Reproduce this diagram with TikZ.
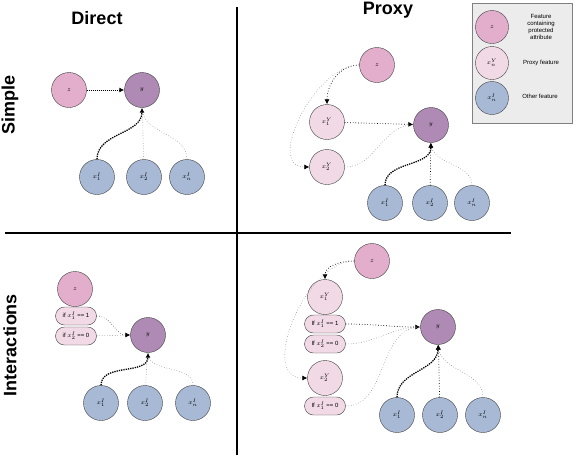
\documentclass[tikz,border=0pt]{standalone}
\usepackage{amsmath}
\usepackage{fontspec}
\setmainfont{Liberation Sans}
\usepackage{tikz}
\usetikzlibrary{arrows.meta}
\definecolor{zpink}{HTML}{E2AECB}
\definecolor{ypurple}{HTML}{AE8AB4}
\definecolor{xblue}{HTML}{A7B9D5}
\definecolor{ppink}{HTML}{F1D9E6}
\tikzset{
  feat/.style={circle, draw=black!75, minimum size=35pt, inner sep=0pt, font=\fontsize{6.5}{7.5}\selectfont},
  zfeat/.style={feat, fill=zpink},
  yfeat/.style={feat, fill=ypurple},
  ifeat/.style={feat, fill=xblue},
  pfeat/.style={feat, fill=ppink},
  cond/.style={draw=black!75, fill=ppink, rounded corners=9pt, minimum width=41pt, minimum height=18pt, inner sep=0pt, font=\fontsize{6}{7}\selectfont},
  strong/.style={densely dotted, line width=1.3pt, -{Latex[length=5pt,width=5pt]}},
  medium/.style={dotted, line width=0.7pt, -{Latex[length=5pt,width=5pt]}},
  weak/.style={dotted, black!45, line width=0.6pt},
  weakarrow/.style={weak, -{Latex[length=5pt,width=5pt,color=black]}},
  title/.style={font=\fontsize{18}{20}\selectfont\bfseries},
  legendtext/.style={align=center, font=\fontsize{6}{6.8}\selectfont}
}
\begin{document}
\begin{tikzpicture}[x=1pt,y=-1pt]
  \useasboundingbox (0,0) rectangle (576,456);
  \draw[line width=2.5pt] (237,7) -- (237,455);
  \draw[line width=2.5pt] (5,233) -- (511,233);
  \node[title] at (97,18) {Direct};
  \node[title] at (388,10) {Proxy};
  \node[title, rotate=90] at (10,105) {Simple};
  \node[title, rotate=90] at (10,345) {Interactions};

  \draw[draw=gray, fill=gray!15] (472,3) rectangle (572,123);
  \node[zfeat, minimum size=33pt] (lz) at (492,27) {$z$};
  \node[pfeat, minimum size=33pt] (lp) at (492,63) {$x^{Y}_{n}$};
  \node[ifeat, minimum size=33pt] (li) at (492,98) {$x^{I}_{n}$};
  \node[legendtext] at (541,27) {Feature\\containing\\protected\\attribute};
  \node[legendtext] at (541,63) {Proxy feature};
  \node[legendtext] at (540,96) {Other feature};

  \node[zfeat] (dsz) at (69,90) {$z$};
  \node[yfeat] (dsy) at (142,90) {$y$};
  \node[ifeat] (dsx1) at (97,177) {$x^{I}_{1}$};
  \node[ifeat] (dsx2) at (144,177) {$x^{I}_{2}$};
  \node[ifeat] (dsxn) at (187,177) {$x^{I}_{n}$};
  \draw[strong, line width=1pt] (dsz) -- (dsy);
  \draw[weak] (dsx2) -- (dsy);
  \draw[weak] (dsxn.north) to[out=90,in=-90] (dsy.south);
  \draw[strong] (dsx1.north) to[out=90,in=-90] (dsy.south);

  \node[zfeat] (psz) at (377,65) {$z$};
  \node[pfeat] (psp1) at (327,122) {$x^{Y}_{1}$};
  \node[pfeat] (psp2) at (327,167) {$x^{Y}_{2}$};
  \node[yfeat] (psy) at (431,125) {$y$};
  \node[ifeat] (psx1) at (385,203) {$x^{I}_{1}$};
  \node[ifeat] (psx2) at (430,203) {$x^{I}_{2}$};
  \node[ifeat] (psxn) at (472,203) {$x^{I}_{n}$};
  \draw[medium] (psz.west) to[out=180,in=90] (psp1.north);
  \draw[weakarrow] (psz.west) to[out=180,in=180] (psp2.west);
  \draw[medium] (psp1) -- (psy);
  \draw[weak] (psp2.east) to[out=0,in=180] (psy.west);
  \draw[weak] (psxn.north) to[out=90,in=-90] (psy.south);
  \draw[medium] (psx2) -- (psy);
  \draw[strong] (psx1.north) to[out=90,in=-90] (psy.south);

  \node[zfeat] (diz) at (75,289) {$z$};
  \node[cond] (dia) at (76,316) {if $x^{I}_{1}$ == 1};
  \node[cond] (dib) at (76,336) {if $x^{I}_{2}$ == 0};
  \node[yfeat] (diy) at (148,335) {$y$};
  \node[ifeat] (dix1) at (101,403) {$x^{I}_{1}$};
  \node[ifeat] (dix2) at (145,403) {$x^{I}_{2}$};
  \node[ifeat] (dixn) at (193,403) {$x^{I}_{n}$};
  \draw[weak] (dib) -- (diy);
  \draw[medium, line width=0.5pt] (dia.east) to[out=0,in=180] (diy.west);
  \draw[weak] (dix2) -- (diy);
  \draw[weak] (dixn.north) to[out=90,in=-90] (diy.south);
  \draw[strong] (dix1.north) to[out=90,in=-90] (diy.south);

  \node[zfeat] (piz) at (372,261) {$z$};
  \node[pfeat] (pip1) at (325,297) {$x^{Y}_{1}$};
  \node[cond] (pia) at (325,324) {If $x^{I}_{1}$ == 1};
  \node[cond] (pib) at (325,344) {If $x^{I}_{2}$ == 0};
  \node[pfeat] (pip2) at (325,378) {$x^{Y}_{2}$};
  \node[cond] (pic) at (325,406) {If $x^{I}_{1}$ == 0};
  \node[yfeat] (piy) at (438,327) {$y$};
  \node[ifeat] (pix1) at (397,415) {$x^{I}_{1}$};
  \node[ifeat] (pix2) at (440,415) {$x^{I}_{2}$};
  \node[ifeat] (pixn) at (483,415) {$x^{I}_{n}$};
  \draw[medium] (piz.west) to[out=180,in=90] (pip1.north);
  \draw[weakarrow] (piz.west) to[out=180,in=180] (pip2.west);
  \draw[medium] (pia.east) to[out=0,in=180] (piy.west);
  \draw[weak] (pib.east) to[out=0,in=180] (piy.west);
  \draw[weak] (pic.east) to[out=0,in=180] (piy.west);
  \draw[weak] (pixn.north) to[out=90,in=-90] (piy.south);
  \draw[medium] (pix2) -- (piy);
  \draw[strong] (pix1.north) to[out=90,in=-90] (piy.south);
\end{tikzpicture}
\end{document}
